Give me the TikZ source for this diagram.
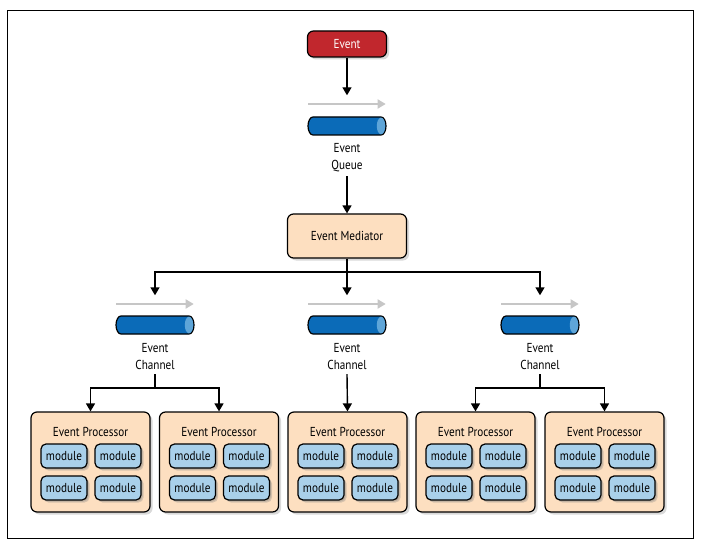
\documentclass[tikz,border=0pt]{standalone}
\usepackage{fontspec}
\setmainfont{PT Sans}[FakeStretch=0.86]
\usetikzlibrary{shadows,arrows.meta}
\definecolor{evred}{HTML}{C1272D}
\definecolor{peach}{HTML}{FDDFC0}
\definecolor{modblue}{HTML}{A9D0EA}
\definecolor{pipeblue}{HTML}{0B6BB8}
\definecolor{pipeend}{HTML}{5EA5D8}
\definecolor{flowgray}{HTML}{C6C6C6}
\tikzset{
  box/.style={draw,line width=1.2pt,rounded corners=6pt,inner sep=0pt,
    drop shadow={opacity=.3,shadow xshift=2.5pt,shadow yshift=-2.5pt}},
  mod/.style={box,fill=modblue,rounded corners=5pt,minimum width=46pt,minimum height=24pt,
    drop shadow={opacity=.3,shadow xshift=1.5pt,shadow yshift=-1.5pt}},
  pipe/.style={minimum width=80pt,minimum height=20pt,inner sep=0pt,
    path picture={
      \filldraw[fill=pipeblue,line width=1.2pt]
        ([xshift=-34pt,yshift=9pt]path picture bounding box.center) -- ++(68pt,0pt)
        arc[start angle=90,end angle=-90,x radius=5pt,y radius=9pt] -- ++(-68pt,0pt)
        arc[start angle=270,end angle=90,x radius=5pt,y radius=9pt] -- cycle;
      \fill[pipeend] ([xshift=34pt]path picture bounding box.center)
        ellipse[x radius=4.2pt,y radius=8.3pt];
    }},
  flow/.style={flowgray,line width=1.8pt,-{Triangle[length=8pt,width=9pt]}},
  lbl/.style={align=center}
}
\begin{document}
\begin{tikzpicture}[x=1pt,y=-1pt,>={Triangle[length=8pt,width=9pt]},
  every node/.style={font=\fontsize{13}{17}\selectfont},
  line width=1.4pt]
\useasboundingbox (0,0) rectangle (704,548);
\draw[line width=1pt] (7,11) rectangle (693,538);
% event and queue
\node[box,fill=evred,text=white,minimum width=79pt,minimum height=26pt] (ev) at (347,44) {Event};
\node[pipe] (q) at (347,126) {};
\node[lbl] (ql) at (347,158) {Event\\Queue};
\draw[flow] ([xshift=2pt,yshift=22pt]q.west) -- ([xshift=-2pt,yshift=22pt]q.east);
\draw[->] (ev.south) -- ([yshift=20pt]q.north);
\node[box,fill=peach,minimum width=119pt,minimum height=44pt] (med) at (347,236) {Event Mediator};
\draw[->] (ql.south) -- (med.north);
% channels
\foreach \cx [count=\i] in {155,347,540} {
  \node[pipe] (ch\i) at (\cx,325) {};
  \node[lbl] (cl\i) at (\cx,357) {Event\\Channel};
  \draw[flow] ([xshift=2pt,yshift=21pt]ch\i.west) -- ([xshift=-2pt,yshift=21pt]ch\i.east);
  \coordinate (in\i) at ([yshift=19pt]ch\i.north);
}
\coordinate (bus) at (347,272);
\draw (med.south) -- (bus);
\draw[->] (bus) -| (in1);
\draw[->] (bus) -- (in2);
\draw[->] (bus) -| (in3);
% processors
\foreach \px [count=\i] in {90.5,219,347.5,475.5,604.5} {
  \node[box,fill=peach,minimum width=119pt,minimum height=100pt] (p\i) at (\px,462) {};
  \node (pt\i) at (\px,432) {Event Processor};
  \node[mod] (m\i a) at (\px-26.5,456) {module};
  \node[mod] (m\i b) at (\px+27.5,456) {module};
  \node[mod] (m\i c) at (\px-26.5,488) {module};
  \node[mod] (m\i d) at (\px+27.5,488) {module};
}
\coordinate (fan1) at (155,388);
\coordinate (fan3) at (540,388);
\draw (cl1.south) -- (fan1);
\draw[->] (fan1) -| (p1.north);
\draw[->] (fan1) -| (p2.north);
\draw[->] (cl2.south) -- (p3.north);
\draw (cl3.south) -- (fan3);
\draw[->] (fan3) -| (p4.north);
\draw[->] (fan3) -| (p5.north);
\end{tikzpicture}
\end{document}
